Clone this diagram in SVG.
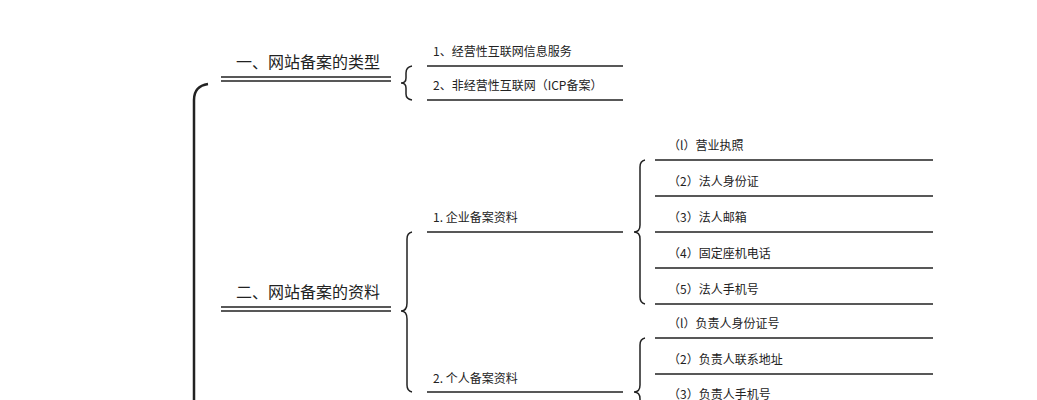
<svg xmlns="http://www.w3.org/2000/svg" width="1037" height="400" viewBox="0 0 1037 400">
<style>
text{font-family:"Noto Sans CJK SC","Noto Sans",sans-serif;fill:#222}
.t{font-size:16px}.s{font-size:12px}
.l{stroke:#222;stroke-width:1.6;fill:none}
.b{stroke:#222;stroke-width:1.5;fill:none}
</style>
<rect width="1037" height="400" fill="#fff"/>
<g id="connectors">
<path class="l" d="M208,84 Q194,86 194,100 L194,400" style="stroke-width:2.5"/>
<path class="l" d="M221,77H391M221,81H391M221,307H391M221,311H391"/>
<path class="b" d="M412,66 Q406,67 406,73 V78 Q406,83 401,83 Q406,83 406,88 V94 Q406,99 412,100"/>
<path class="b" d="M412,232 Q407,233 407,239 V303 Q407,311 401,311 Q407,311 407,319 V385 Q407,391 412,392"/>
<path class="b" d="M645,160 Q640,161 640,167 V225 Q640,232 634,232 Q640,232 640,239 V297 Q640,303 645,304"/>
<path class="b" d="M645,338 Q640,339 640,345 V385 Q640,392 634,392 Q640,392 640,399 V400"/>
<path class="l" d="M427,66H623M427,100H623M427,232H623M427,392H623M655,160H933M655,196H933M655,232H933M655,268H933M655,304H933M655,338H933M655,374H933"/>
</g>
<g id="n1"><text class="t" x="236" y="68">一、网站备案的类型</text></g>
<g id="n2"><text class="t" x="236" y="298">二、网站备案的资料</text></g>
<g id="n3"><text class="s" x="433" y="56">1、经营性互联网信息服务</text></g>
<g id="n4"><text class="s" x="433" y="90">2、非经营性互联网（ICP备案）</text></g>
<g id="n5"><text class="s" x="433" y="222">1. 企业备案资料</text></g>
<g id="n6"><text class="s" x="433" y="383">2. 个人备案资料</text></g>
<g id="n7"><text class="s" x="668" y="150">（l）营业执照</text></g>
<g id="n8"><text class="s" x="668" y="186">（2）法人身份证</text></g>
<g id="n9"><text class="s" x="668" y="222">（3）法人邮箱</text></g>
<g id="n10"><text class="s" x="668" y="258">（4）固定座机电话</text></g>
<g id="n11"><text class="s" x="668" y="294">（5）法人手机号</text></g>
<g id="n12"><text class="s" x="668" y="328">（l）负责人身份证号</text></g>
<g id="n13"><text class="s" x="668" y="364">（2）负责人联系地址</text></g>
<g id="n14"><text class="s" x="668" y="399">（3）负责人手机号</text></g>
</svg>
